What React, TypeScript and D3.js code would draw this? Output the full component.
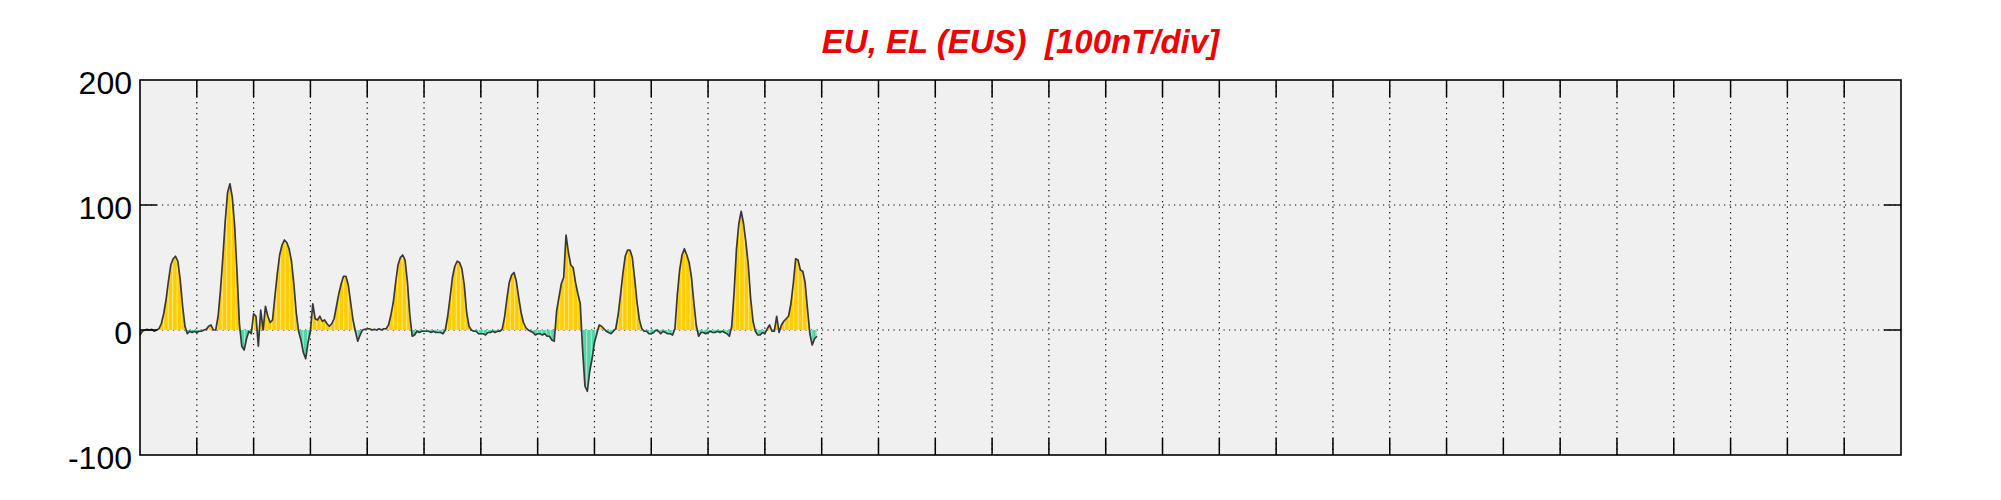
import React from 'react';
import * as d3 from 'd3';

// hourly EU/EL values (nT), one array per day
const day01 = [-4, -1, 0, 0.5, 0, 0.5, -1, 0, 1, 5, 13, 24, 39, 52, 57, 59, 55, 40, 19, 3, -3, -1, -2, -1];
const day02 = [-2, -1, -1, 0, 0.5, 3, 4, 0, 0, 11, 32, 58, 87, 110, 117, 106, 83, 46, 5, -13, -16, -7, -1, -3];
const day03 = [13, 11, -13, 16, 0, 19, 11, 6, 8, 27, 45, 60, 68, 72, 70, 65, 55, 37, 14, -1, -8, -18, -23, -10];
const day04 = [-1, 21, 9, 8, 11, 7, 8, 5, 3, 5, 9, 19, 29, 37, 43, 43, 36, 22, 8, -1, -9, -4, 0, 0.5];
const day05 = [1, 1, 0, 0.5, 0, 1, 0, 1, 1, 4, 12, 22, 38, 52, 58, 60, 56, 38, 12, -5, -4, -1, -2, -1];
const day06 = [-1, -1, -1, -2, -1, -2, -2, -2, -3, 0, 11, 26, 42, 51, 55, 54, 49, 36, 14, 3, 0, -1, -1, -3];
const day07 = [-3, -3, -4, -2, -2, -1, -2, -1, -1, 0.5, 10, 25, 38, 44, 46, 39, 26, 14, 6, 2, 0, -1, -2, -4];
const day08 = [-3, -3, -4, -3, -5, -5, -8, -9, 15, 26, 37, 42, 76, 62, 52, 50, 38, 29, 21, -16, -45, -49, -33, -23];
const day09 = [-10, -3, 4, 3, 1, -1, -2, -3, -1, 1, 12, 28, 45, 59, 64, 64, 58, 41, 22, 8, 1, -1, -1, -3];
const day10 = [-3, -2, 0, -1, -3, -1, -2, -3, -3, -4, 1, 28, 48, 60, 65, 60, 54, 42, 22, 4, -5, -2, -2, -3];
const day11 = [-2, -1, -2, -2, -1, -2, -1, -2, -3, -5, 3, 30, 65, 85, 95, 85, 70, 52, 25, 7, -1, -4, -4, -2];
const day12 = [-3, 1, 4, -1, -1, 11, -2, 4, 7, 9, 11, 21, 37, 57, 56, 48, 47, 38, 17, -3, -12, -7, -5];

const days = [day01, day02, day03, day04, day05, day06, day07, day08, day09, day10, day11, day12];
const yTickValues = [-100, 0, 100, 200];
const yGridValues = [0, 100];
const xGridDays = d3.range(1, 31);
const titleText = 'EU, EL (EUS)  [100nT/div]';

export default function App() {
  const W = 2001, H = 500;
  const left = 140, right = 1901, top = 80, bottom = 455;
  const x = d3.scaleLinear().domain([0, 31]).range([left, right]);
  const y = d3.scaleLinear().domain([-100, 200]).range([bottom, top]);
  const pts = days.flatMap((arr, d) => arr.map((v, h) => ({ t: d + h / 24, v })));
  const line = d3.line<any>().x((p: any) => x(p.t)).y((p: any) => y(p.v));
  const area = d3.area<any>().x((p: any) => x(p.t)).y0(y(0)).y1((p: any) => y(p.v));
  const areaD = area(pts) || '';
  const xEnd = x(pts[pts.length - 1].t);
  const stripes = d3.range(left + 1.2, xEnd, 4.5);
  const tickLen = 17;
  const font = '"Liberation Sans", Arial, Helvetica, sans-serif';

  return (
    <svg width={W} height={H} style={{ position: 'absolute', left: 0, top: 0, background: '#fff' }}>
      <defs>
        <clipPath id="pos"><rect x={left} y={top} width={right - left} height={y(0) - top} /></clipPath>
        <clipPath id="neg"><rect x={left} y={y(0)} width={right - left} height={bottom - y(0)} /></clipPath>
        <clipPath id="ar"><path d={areaD} /></clipPath>
      </defs>
      <text x={(left + right) / 2} y={53} textAnchor="middle" fill="#f00000" fontFamily={font}
        fontWeight="bold" fontStyle="italic" fontSize={33} style={{ whiteSpace: 'pre' }}>{titleText}</text>
      <rect x={left} y={top} width={right - left} height={bottom - top} fill="#f0f0f0" />
      {xGridDays.map(d => (
        <line key={'gx' + d} x1={x(d)} x2={x(d)} y1={top} y2={bottom} stroke="#000" strokeWidth={1.2} strokeDasharray="1.2,4.3" />
      ))}
      {yGridValues.map(v => (
        <line key={'gy' + v} x1={left} x2={right} y1={y(v)} y2={y(v)} stroke="#000" strokeWidth={1.2} strokeDasharray="1.2,4.3" />
      ))}
      <path d={areaD} fill="#ffcc00" clipPath="url(#pos)" />
      <path d={areaD} fill="#52d6a8" clipPath="url(#neg)" />
      <g clipPath="url(#ar)">
        {stripes.map((sx, i) => (
          <line key={'s' + i} x1={sx} x2={sx} y1={top} y2={bottom} stroke="#fff" strokeOpacity={0.55} strokeWidth={1} />
        ))}
      </g>
      <path d={line(pts) || ''} fill="none" stroke="#383838" strokeWidth={1.7} strokeLinejoin="round" />
      {xGridDays.map(d => (
        <g key={'tx' + d}>
          <line x1={x(d)} x2={x(d)} y1={top} y2={top + tickLen} stroke="#000" strokeWidth={1.5} />
          <line x1={x(d)} x2={x(d)} y1={bottom} y2={bottom - tickLen} stroke="#000" strokeWidth={1.5} />
        </g>
      ))}
      {yGridValues.map(v => (
        <g key={'ty' + v}>
          <line x1={left} x2={left + tickLen} y1={y(v)} y2={y(v)} stroke="#000" strokeWidth={1.5} />
          <line x1={right} x2={right - tickLen} y1={y(v)} y2={y(v)} stroke="#000" strokeWidth={1.5} />
        </g>
      ))}
      <rect x={left} y={top} width={right - left} height={bottom - top} fill="none" stroke="#000" strokeWidth={1.6} />
      {yTickValues.map(v => (
        <text key={'yl' + v} x={132} y={y(v) + 13.5} textAnchor="end" fontFamily={font} fontSize={32} fill="#000">{v}</text>
      ))}
    </svg>
  );
}
